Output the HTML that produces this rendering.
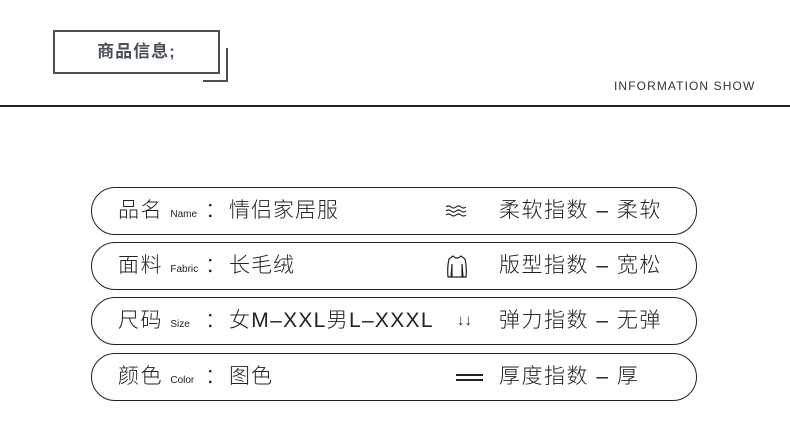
<!DOCTYPE html>
<html><head><meta charset="utf-8"><style>
body{margin:0;width:790px;height:446px;background:#fff;position:relative;overflow:hidden;font-family:"Liberation Sans","Noto Sans CJK SC",sans-serif;color:#222}
.hb{position:absolute;left:53px;top:30px;width:163px;height:40px;border:2px solid #4a5058;font-size:17px;font-weight:bold;color:#4a5058;text-align:center;line-height:40px;letter-spacing:1px}
.pill{position:absolute;left:91px;width:604px;height:46px;border:1.5px solid #222;border-radius:24px}
.t{position:absolute;top:0;line-height:46px;font-size:21px;white-space:nowrap;letter-spacing:1.5px;font-weight:300}
.s{font-size:10px;letter-spacing:0}
</style></head><body>
<div class="hb">商品信息;</div>
<div style="position:absolute;left:226px;top:48px;width:2px;height:34px;background:#4a5058"></div>
<div style="position:absolute;left:203px;top:80px;width:25px;height:2px;background:#4a5058"></div>
<div style="position:absolute;left:0;top:105px;width:790px;height:1.5px;background:#222"></div>
<div style="position:absolute;left:614px;top:79px;font-size:12px;color:#333;letter-spacing:1.1px">INFORMATION SHOW</div>

<div class="pill" style="top:187px"><div class="t" style="left:26px">品名 <span class="s">Name</span></div><div class="t" style="left:113px">：</div><div class="t" style="left:137px;letter-spacing:1px">情侣家居服</div>
<svg style="position:absolute;left:353px;top:17px" width="22" height="12" viewBox="0 0 22 12" fill="none" stroke="#222" stroke-width="1.1"><path d="M1 2 q2.5 -2 5 0 t5 0 t5 0 t5 0 M1 6 q2.5 -2 5 0 t5 0 t5 0 t5 0 M1 10 q2.5 -2 5 0 t5 0 t5 0 t5 0"/></svg>
<div class="t" style="left:407px">柔软指数 – 柔软</div></div>

<div class="pill" style="top:242px"><div class="t" style="left:26px">面料 <span class="s">Fabric</span></div><div class="t" style="left:113px">：</div><div class="t" style="left:137px;letter-spacing:1px">长毛绒</div>
<svg style="position:absolute;left:354px;top:11px" width="22" height="25" viewBox="0 0 22 25" fill="none" stroke="#222" stroke-width="1.2"><path d="M7 2 Q11 6 15 2 L19 5 Q21 14 20 23 L17 23 L16 10 L16 23 L6 23 L6 10 L5 23 L2 23 Q1 14 3 5 Z"/></svg>
<div class="t" style="left:407px">版型指数 – 宽松</div></div>

<div class="pill" style="top:297px"><div class="t" style="left:26px">尺码 <span class="s">Size</span></div><div class="t" style="left:113px">：</div><div class="t" style="left:137px;letter-spacing:1.3px">女M–XXL男L–XXXL</div>
<div class="t" style="left:365px;font-size:15px;letter-spacing:0">↓↓</div><div class="t" style="left:407px">弹力指数 – 无弹</div></div>

<div class="pill" style="top:353px"><div class="t" style="left:26px">颜色 <span class="s">Color</span></div><div class="t" style="left:113px">：</div><div class="t" style="left:137px;letter-spacing:1px">图色</div>
<div style="position:absolute;left:364px;top:20px;width:27px;height:1.5px;background:#222"></div>
<div style="position:absolute;left:364px;top:25px;width:27px;height:1.5px;background:#222"></div>
<div class="t" style="left:407px">厚度指数 – 厚</div></div>
</body></html>
